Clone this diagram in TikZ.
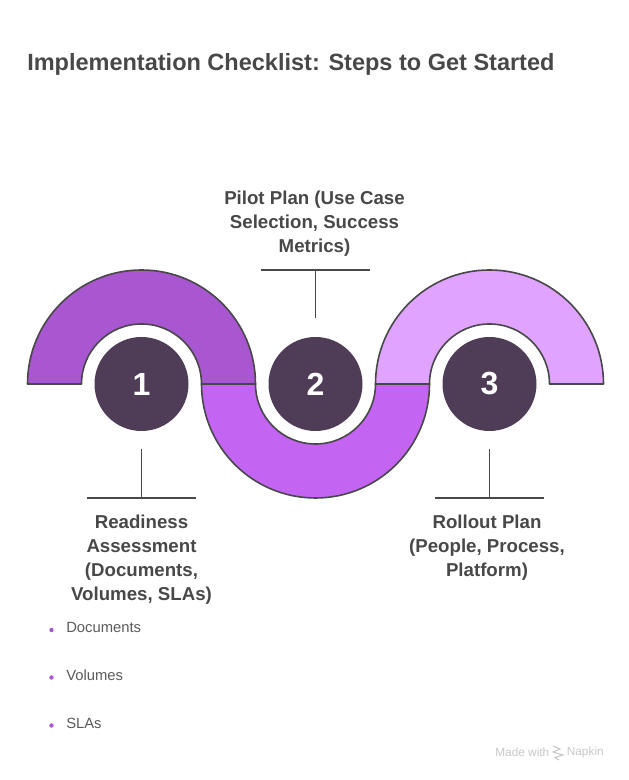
\documentclass[tikz,border=0pt]{standalone}
\usepackage{fontspec}
\setmainfont{Liberation Sans}
\usepackage{xcolor}
\usetikzlibrary{positioning}
\definecolor{bandA}{HTML}{A956D1}
\definecolor{bandB}{HTML}{C364F3}
\definecolor{bandC}{HTML}{E0A3FF}
\definecolor{stepdark}{HTML}{4F3D58}
\definecolor{inkgray}{HTML}{484848}
\begin{document}
\begin{tikzpicture}[
  x=0.75pt, y=0.75pt,
  band/.style={draw=inkgray, line width=1.2pt, line join=round, fill=#1},
  stepdot/.style={circle, fill=stepdark, text=white, inner sep=0pt, minimum size=70.5pt,
                  font=\fontsize{24}{28}\selectfont\bfseries},
  leader/.style={draw=inkgray, line width=1.3pt},
  steplabel/.style={text=inkgray, align=center, inner sep=0pt,
                    font=\fontsize{14}{18}\selectfont\bfseries},
  bulletdot/.style={circle, fill=bandA, inner sep=0pt, minimum size=3.3pt},
  bullettext/.style={text=inkgray!90, anchor=west, inner sep=0pt,
                     font=\fontsize{11.1}{13}\selectfont},
  footmark/.style={text=black!22, inner sep=0pt, font=\fontsize{8.9}{11}\selectfont},
]
\useasboundingbox (0,0) rectangle (628,780);
\node[text=inkgray, anchor=west, inner sep=0pt, font=\fontsize{17.63}{22}\selectfont\bfseries]
  (title) at (27,716) {Implementation Checklist: Steps to Get Started};
% three bands
\draw[band=bandB] (201.5,396) arc (180:360:114) -- (375.5,396) arc (360:180:60) -- cycle;
\draw[band=bandA] (27.5,396) arc (180:0:114) -- (201.5,396) arc (0:180:60) -- cycle;
\draw[band=bandC] (375.5,396) arc (180:0:114) -- (549.5,396) arc (0:180:60) -- cycle;
% numbered circles
\node[stepdot] (stepA) at (141.5,396) {1};
\node[stepdot] (stepB) at (315.5,396) {2};
\node[stepdot] (stepC) at (489.5,396) {3};
% leaders
\coordinate[below=13.5pt of stepA.south] (tickA);
\coordinate[below=36.75pt of tickA] (footA);
\coordinate[above=14.25pt of stepB.north] (tickB);
\coordinate[above=36pt of tickB] (footB);
\coordinate[below=13.5pt of stepC.south] (tickC);
\coordinate[below=36.75pt of tickC] (footC);
\draw[leader] (tickA) -- (footA);
\draw[leader] ([xshift=-41pt]footA) -- ([xshift=41pt]footA);
\draw[leader] (tickB) -- (footB);
\draw[leader] ([xshift=-41pt]footB) -- ([xshift=41pt]footB);
\draw[leader] (tickC) -- (footC);
\draw[leader] ([xshift=-41pt]footC) -- ([xshift=41pt]footC);
% labels
\node[steplabel] (labelA) at (141.5,220) {Readiness\\Assessment\\(Documents,\\Volumes, SLAs)};
\node[steplabel] (labelB) at (314.5,556) {Pilot Plan (Use Case\\Selection, Success\\Metrics)};
\node[steplabel] (labelC) at (487,232) {Rollout Plan\\(People, Process,\\Platform)};
% bullets
\node[bulletdot] (dotA) at (51.5,150) {};
\node[bulletdot] (dotB) at (51.5,102.5) {};
\node[bulletdot] (dotC) at (51.5,54.5) {};
\node[bullettext] (itemA) at (66,152.5) {Documents};
\node[bullettext] (itemB) at (66,104.5) {Volumes};
\node[bullettext] (itemC) at (66,56.5) {SLAs};
% footer
\node[footmark, anchor=west] (madeWith) at (495,28) {Made with};
\node[footmark, anchor=east] (napkin) at (604,28) {Napkin};
\draw[black!22, line width=0.8pt] (553,34) -- (560,31) -- (553,28) -- (563,25) -- (555,22.5) -- (559,20);
\end{tikzpicture}
\end{document}
